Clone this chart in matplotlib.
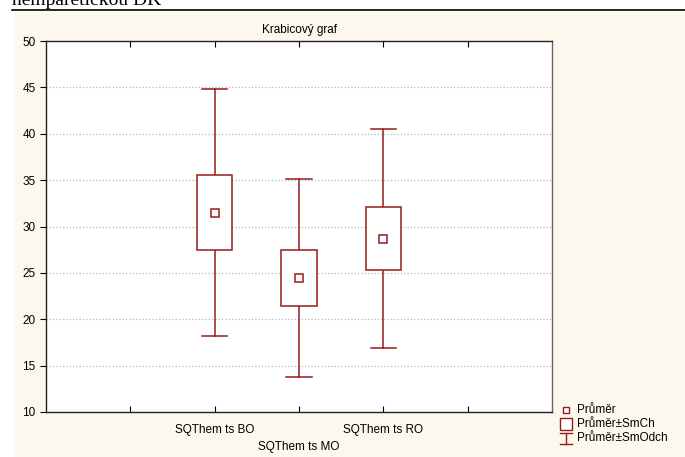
import matplotlib
matplotlib.use("Agg")
import matplotlib.pyplot as plt
from matplotlib.patches import Rectangle
from matplotlib.lines import Line2D

# data
groups = ["SQThem ts BO", "SQThem ts MO", "SQThem ts RO"]
means = [31.5, 24.4, 28.7]
se_low = [27.5, 21.4, 25.3]
se_high = [35.5, 27.5, 32.1]
sd_low = [18.2, 13.8, 16.9]
sd_high = [44.8, 35.1, 40.5]
legend_labels = ["Průměr", "Průměr±SmCh", "Průměr±SmOdch"]

red = "#961b1b"
cream = "#fdf8ee"

plt.rcParams["font.family"] = ["Liberation Sans", "DejaVu Sans"]

fig = plt.figure(figsize=(6.85, 4.57), dpi=100)
fig.patch.set_facecolor("white")
# cream background panel of the page
fig.patches.append(Rectangle((14/685, 0), 1, 1 - 12/457, transform=fig.transFigure,
                             facecolor=cream, edgecolor="none", zorder=-10))
fig.add_artist(Line2D([12/685, 1], [1 - 10/457, 1 - 10/457], transform=fig.transFigure,
                      color="black", lw=1.2))
fig.text(12/685, 1 - 5/457, "nemparetickou DK", family=["Liberation Serif"], fontsize=14,
         ha="left", va="baseline", color="black")

ax = fig.add_axes([46/685, 1 - 412/457, 506/685, 371/457])
ax.set_facecolor("white")

pos = [2, 3, 4]
bw = 0.42
cw = 0.30
for i, x in enumerate(pos):
    ax.plot([x, x], [sd_low[i], se_low[i]], color=red, lw=1.1, zorder=3)
    ax.plot([x, x], [se_high[i], sd_high[i]], color=red, lw=1.1, zorder=3)
    ax.plot([x - cw/2, x + cw/2], [sd_low[i]] * 2, color=red, lw=1.1, zorder=3)
    ax.plot([x - cw/2, x + cw/2], [sd_high[i]] * 2, color=red, lw=1.1, zorder=3)
    ax.add_patch(Rectangle((x - bw/2, se_low[i]), bw, se_high[i] - se_low[i],
                           facecolor="white", edgecolor=red, lw=1.1, zorder=3))
ax.plot(pos, means, ls="none", marker="s", markersize=6, mfc="white", mec=red,
        mew=1.1, zorder=4)

ax.set_xlim(0, 6)
ax.set_ylim(10, 50)
ax.set_yticks(range(10, 51, 5))
ax.set_xticks([1, 2, 3, 4, 5])
ax.set_xticklabels(["", groups[0], "\n" + groups[1], groups[2], ""], linespacing=1.5)
ax.tick_params(axis="x", direction="in", length=4, top=True, labelsize=8.5, pad=9)
ax.tick_params(axis="y", direction="out", length=4, labelsize=8.5, width=0.8)
ax.yaxis.grid(True, ls=":", color="#b8b8b8", lw=0.9)
for s in ax.spines.values():
    s.set_color("#222222")
    s.set_linewidth(1.0)
ax.spines["right"].set_color("#666666")
ax.set_title("Krabicový graf", fontsize=8.5, pad=6)

# legend drawn by hand
lx = 566 / 685
ys = [410, 424, 438]
def fy(p):
    return 1 - p / 457
fig.add_artist(Rectangle((lx - 3/685, fy(ys[0]) - 3/457), 6/685, 6/457,
                         transform=fig.transFigure, facecolor="white", edgecolor=red, lw=1))
fig.add_artist(Rectangle((lx - 6/685, fy(ys[1]) - 6/457), 12/685, 12/457,
                         transform=fig.transFigure, facecolor="white", edgecolor=red, lw=1))
fig.add_artist(Line2D([lx, lx], [fy(ys[2] - 5), fy(ys[2] + 6)], transform=fig.transFigure,
                      color=red, lw=1))
fig.add_artist(Line2D([lx - 6/685, lx + 6/685], [fy(ys[2] - 5)] * 2, transform=fig.transFigure,
                      color=red, lw=1))
fig.add_artist(Line2D([lx - 6/685, lx + 6/685], [fy(ys[2] + 6)] * 2, transform=fig.transFigure,
                      color=red, lw=1))
for y, lab in zip(ys, legend_labels):
    fig.text(577/685, fy(y), lab, fontsize=8.5, va="center", ha="left")

fig.savefig("out.png", dpi=100, facecolor=fig.get_facecolor())
